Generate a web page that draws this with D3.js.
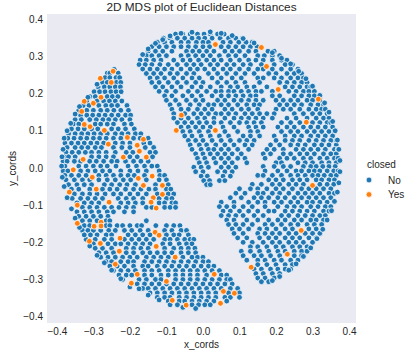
<!DOCTYPE html>
<html>
<head>
<meta charset="utf-8">
<script src="https://cdnjs.cloudflare.com/ajax/libs/d3/7.8.5/d3.min.js"></script>
<style>
  html, body { margin: 0; padding: 0; background: #fff; }
  text { font-family: "Liberation Sans", Arial, sans-serif; fill: #262626; }
  .domain { display: none; }
</style>
</head>
<body>
<div id="chart"></div>
<script>
// closed = Yes as [x, y]
const yesPoints = [
  [-0.246,0.260],[-0.281,0.241],[-0.251,0.230],[-0.279,0.190],[-0.325,0.179],[-0.300,0.174],[-0.332,0.152],
  [-0.325,0.117],[-0.309,0.111],[-0.270,0.101],[-0.259,0.064],[-0.207,0.082],[-0.163,0.077],[-0.180,0.061],
  [-0.174,0.045],[-0.218,0.029],[-0.155,0.029],[-0.328,0.023],[-0.355,-0.005],[-0.059,0.142],[-0.073,0.101],
  [0.034,0.332],[0.160,0.324],[0.174,0.273],[0.206,0.211],[0.316,0.185],[0.283,0.123],[0.034,0.101],
  [-0.303,-0.025],[-0.292,-0.057],[-0.366,-0.065],[-0.344,-0.100],[-0.257,-0.092],[-0.177,-0.028],[-0.163,-0.047],
  [-0.139,-0.022],[-0.111,-0.047],[-0.111,-0.071],[-0.136,-0.080],[-0.142,-0.092],[-0.128,-0.108],[-0.344,-0.149],
  [-0.298,-0.157],[-0.279,-0.146],[-0.279,-0.156],[-0.311,-0.197],[-0.281,-0.203],[-0.227,-0.189],[-0.229,-0.224],
  [-0.240,-0.259],[-0.180,-0.286],[-0.196,-0.310],[-0.131,-0.173],[-0.120,-0.181],[-0.128,-0.211],[-0.076,-0.240],
  [-0.100,-0.305],[-0.084,-0.356],[-0.046,-0.369],
  [0.300,-0.047],[0.269,-0.168],[0.231,-0.232],[0.132,-0.267],[0.031,-0.286],[0.056,-0.332],[0.086,-0.337],[0.048,-0.364]
];

// closed = No, read off row by row: [y, [x, x, ...]]
const noLeft = [
  [0.265,[-0.243]],
  [0.255,[-0.262,-0.255,-0.232]],
  [0.243,[-0.268,-0.255,-0.238,-0.228]],
  [0.230,[-0.275,-0.262,-0.237,-0.225]],
  [0.218,[-0.287,-0.270,-0.255,-0.240,-0.226]],
  [0.205,[-0.298,-0.283,-0.268,-0.252,-0.238,-0.224]],
  [0.192,[-0.310,-0.295,-0.262,-0.248,-0.233]],
  [0.180,[-0.318,-0.290,-0.272,-0.256,-0.240,-0.222]],
  [0.168,[-0.328,-0.312,-0.285,-0.266,-0.250,-0.234,-0.208]],
  [0.155,[-0.340,-0.318,-0.300,-0.280,-0.262,-0.244,-0.225,-0.204]],
  [0.142,[-0.335,-0.318,-0.302,-0.285,-0.268,-0.250,-0.232,-0.212,-0.198]],
  [0.130,[-0.350,-0.333,-0.310,-0.292,-0.274,-0.258,-0.240,-0.222,-0.200]],
  [0.118,[-0.355,-0.340,-0.295,-0.280,-0.262,-0.245,-0.215,-0.196]],
  [0.105,[-0.360,-0.342,-0.325,-0.305,-0.288,-0.250,-0.232,-0.212,-0.188]],
  [0.092,[-0.368,-0.350,-0.332,-0.315,-0.298,-0.280,-0.262,-0.240,-0.222,-0.205,-0.185,-0.170]],
  [0.080,[-0.370,-0.353,-0.335,-0.318,-0.300,-0.283,-0.265,-0.245,-0.225,-0.190,-0.172,-0.150]],
  [0.067,[-0.378,-0.360,-0.342,-0.325,-0.307,-0.290,-0.272,-0.240,-0.220,-0.200,-0.162,-0.145]],
  [0.055,[-0.372,-0.350,-0.332,-0.315,-0.295,-0.278,-0.245,-0.222,-0.200,-0.158,-0.135]],
  [0.042,[-0.375,-0.358,-0.340,-0.322,-0.305,-0.285,-0.265,-0.240,-0.210,-0.192,-0.145,-0.130]],
  [0.030,[-0.380,-0.368,-0.350,-0.305,-0.285,-0.265,-0.245,-0.200,-0.180,-0.138]],
  [0.018,[-0.383,-0.372,-0.352,-0.335,-0.310,-0.292,-0.272,-0.250,-0.235,-0.212,-0.190,-0.170,-0.150]],
  [0.005,[-0.378,-0.340,-0.320,-0.300,-0.280,-0.262,-0.238,-0.205,-0.182,-0.160,-0.140,-0.125]],
  [-0.008,[-0.383,-0.370,-0.335,-0.315,-0.295,-0.275,-0.255,-0.225,-0.200,-0.178,-0.155,-0.120]],
  [-0.020,[-0.378,-0.360,-0.340,-0.320,-0.285,-0.265,-0.245,-0.225,-0.205,-0.188,-0.160,-0.118,-0.105]],
  [-0.032,[-0.375,-0.352,-0.330,-0.310,-0.285,-0.262,-0.240,-0.218,-0.198,-0.155,-0.120,-0.100]],
  [-0.045,[-0.368,-0.345,-0.325,-0.305,-0.270,-0.250,-0.228,-0.208,-0.185,-0.130,-0.095]],
  [-0.057,[-0.360,-0.340,-0.310,-0.275,-0.255,-0.235,-0.212,-0.190,-0.170,-0.148,-0.130,-0.100,-0.088]],
  [-0.070,[-0.352,-0.330,-0.310,-0.290,-0.268,-0.245,-0.225,-0.200,-0.178,-0.155,-0.125,-0.095,-0.080]],
  [-0.082,[-0.358,-0.335,-0.315,-0.295,-0.275,-0.232,-0.210,-0.190,-0.165,-0.120,-0.100,-0.085]],
  [-0.094,[-0.345,-0.325,-0.305,-0.285,-0.225,-0.205,-0.185,-0.165,-0.120,-0.105,-0.085,-0.075]],
  [-0.106,[-0.330,-0.310,-0.290,-0.270,-0.250,-0.230,-0.210,-0.190,-0.155,-0.140,-0.105,-0.090,-0.075]],
  [-0.118,[-0.345,-0.325,-0.305,-0.285,-0.262,-0.245,-0.215,-0.190]],
  [-0.130,[-0.340,-0.320,-0.300,-0.280,-0.260]],
  [-0.142,[-0.330,-0.310,-0.290,-0.265,-0.255,-0.155]],
  [-0.155,[-0.325,-0.310,-0.265,-0.255,-0.235,-0.220,-0.200,-0.180,-0.168,-0.129,-0.100,-0.080,-0.063]],
  [-0.168,[-0.330,-0.315,-0.300,-0.280,-0.258,-0.240,-0.215,-0.195,-0.172,-0.150,-0.105,-0.085,-0.060,-0.045]],
  [-0.180,[-0.325,-0.308,-0.290,-0.265,-0.250,-0.205,-0.185,-0.165,-0.145,-0.100,-0.080,-0.065,-0.040]],
  [-0.192,[-0.320,-0.295,-0.270,-0.250,-0.215,-0.195,-0.175,-0.155,-0.135,-0.105,-0.090,-0.070,-0.050,-0.035,-0.025]],
  [-0.204,[-0.300,-0.260,-0.240,-0.225,-0.205,-0.185,-0.165,-0.145,-0.110,-0.090,-0.065,-0.045,-0.030]],
  [-0.216,[-0.295,-0.275,-0.250,-0.210,-0.190,-0.170,-0.150,-0.105,-0.080,-0.060,-0.040,-0.022]],
  [-0.228,[-0.285,-0.265,-0.245,-0.210,-0.190,-0.165,-0.145,-0.125,-0.105,-0.085,-0.060,-0.040,-0.020]],
  [-0.240,[-0.280,-0.260,-0.240,-0.220,-0.200,-0.180,-0.155,-0.135,-0.115,-0.095,-0.055,-0.030,-0.015,0.000]],
  [-0.252,[-0.265,-0.250,-0.225,-0.205,-0.190,-0.160,-0.140,-0.120,-0.100,-0.080,-0.060,-0.040,-0.020,0.000,0.015]],
  [-0.264,[-0.255,-0.235,-0.215,-0.190,-0.165,-0.150,-0.125,-0.105,-0.085,-0.065,-0.045,-0.025,-0.005,0.015,0.030]],
  [-0.276,[-0.245,-0.225,-0.205,-0.185,-0.160,-0.140,-0.120,-0.095,-0.075,-0.055,-0.035,-0.015,0.005,0.025,0.045]],
  [-0.288,[-0.230,-0.210,-0.195,-0.160,-0.140,-0.115,-0.095,-0.075,-0.055,-0.035,-0.015,0.010,0.050,0.065]],
  [-0.300,[-0.220,-0.175,-0.155,-0.130,-0.115,-0.075,-0.055,-0.035,-0.015,0.005,0.025,0.045,0.065,0.075]],
  [-0.312,[-0.180,-0.160,-0.140,-0.120,-0.100,-0.080,-0.060,-0.040,-0.020,0.000,0.020,0.040,0.060,0.080]],
  [-0.324,[-0.165,-0.150,-0.130,-0.110,-0.090,-0.070,-0.050,-0.030,-0.010,0.010,0.030,0.050,0.075,0.095]],
  [-0.336,[-0.145,-0.125,-0.105,-0.085,-0.065,-0.045,-0.025,-0.005,0.015,0.035,0.070,0.100]],
  [-0.348,[-0.125,-0.105,-0.090,-0.065,-0.045,-0.025,-0.005,0.015,0.035,0.060,0.075,0.100]],
  [-0.358,[-0.095,-0.065,-0.050,-0.030,-0.010,0.010,0.030,0.065]],
  [-0.368,[-0.070,-0.030,-0.012,0.005,0.020]]
];

const noTop = [
  [0.360,[-0.075,-0.055,-0.035,-0.015,0.003,0.020,0.040,0.058]],
  [0.349,[-0.108,-0.090,-0.070,-0.050,-0.030,-0.012,0.005,0.025,0.047,0.070,0.090,0.108]],
  [0.338,[-0.125,-0.105,-0.085,-0.060,-0.040,-0.018,0.000,0.015,0.055,0.075,0.098,0.118,0.135]],
  [0.326,[-0.140,-0.120,-0.100,-0.080,-0.060,-0.040,-0.020,0.000,0.018,0.050,0.070,0.090,0.110,0.130,0.148]],
  [0.314,[-0.150,-0.130,-0.110,-0.085,-0.045,-0.028,-0.010,0.010,0.030,0.060,0.080,0.100,0.125,0.145,0.178,0.195]],
  [0.302,[-0.155,-0.140,-0.120,-0.100,-0.060,-0.040,-0.020,0.000,0.020,0.045,0.070,0.090,0.115,0.150,0.168,0.190,0.210]],
  [0.290,[-0.172,-0.155,-0.135,-0.115,-0.080,-0.055,-0.035,-0.012,0.010,0.030,0.050,0.075,0.100,0.125,0.145,0.165,0.190,0.215,0.230]],
  [0.278,[-0.175,-0.158,-0.140,-0.118,-0.095,-0.070,-0.045,-0.025,-0.005,0.020,0.040,0.065,0.085,0.110,0.130,0.160,0.195,0.225,0.245]],
  [0.266,[-0.165,-0.145,-0.125,-0.105,-0.085,-0.060,-0.035,-0.015,0.005,0.030,0.055,0.075,0.100,0.125,0.150,0.165,0.190,0.215,0.240,0.260]],
  [0.254,[-0.155,-0.135,-0.115,-0.090,-0.070,-0.045,-0.025,0.015,0.040,0.065,0.090,0.115,0.140,0.180,0.200,0.230,0.250,0.270]],
  [0.242,[-0.145,-0.125,-0.105,-0.080,-0.055,-0.030,-0.010,0.025,0.050,0.080,0.105,0.150,0.165,0.195,0.215,0.240,0.260,0.275]],
  [0.230,[-0.140,-0.120,-0.095,-0.070,-0.045,-0.020,0.000,0.040,0.065,0.090,0.115,0.155,0.210,0.230,0.250,0.270,0.285]],
  [0.218,[-0.130,-0.110,-0.085,-0.060,-0.030,-0.005,0.020,0.050,0.075,0.095,0.120,0.140,0.175,0.225,0.245,0.265,0.285,0.295]],
  [0.206,[-0.120,-0.100,-0.075,-0.040,-0.015,0.010,0.035,0.050,0.070,0.085,0.105,0.125,0.145,0.160,0.190,0.235,0.255,0.275,0.290,0.305]],
  [0.194,[-0.105,-0.085,-0.055,-0.030,-0.005,0.025,0.050,0.070,0.090,0.110,0.130,0.145,0.190,0.210,0.250,0.270,0.290,0.305]],
  [0.182,[-0.100,-0.075,-0.045,-0.020,0.000,0.040,0.060,0.085,0.105,0.125,0.145,0.165,0.200,0.220,0.240,0.260,0.285,0.300,0.320]],
  [0.170,[-0.090,-0.065,-0.035,-0.010,0.015,0.030,0.050,0.070,0.095,0.120,0.140,0.155,0.210,0.230,0.250,0.270,0.295,0.315,0.330]],
  [0.158,[-0.085,-0.060,-0.040,-0.015,0.005,0.025,0.060,0.080,0.105,0.125,0.150,0.200,0.220,0.240,0.265,0.290,0.310,0.325,0.335]],
  [0.146,[-0.080,-0.050,-0.025,-0.005,0.015,0.035,0.050,0.070,0.090,0.115,0.135,0.155,0.175,0.195,0.250,0.275,0.300,0.320,0.340]],
  [0.134,[-0.080,-0.060,-0.040,-0.015,0.005,0.030,0.060,0.085,0.105,0.125,0.145,0.165,0.190,0.230,0.255,0.285,0.310,0.330,0.345]],
  [0.122,[-0.070,-0.050,-0.030,-0.010,0.010,0.030,0.050,0.075,0.100,0.120,0.140,0.160,0.215,0.240,0.265,0.300,0.320,0.340,0.350]],
  [0.110,[-0.060,-0.040,-0.020,0.000,0.020,0.055,0.085,0.125,0.145,0.165,0.205,0.230,0.250,0.275,0.295,0.315,0.335,0.355]],
  [0.098,[-0.055,-0.035,-0.010,0.015,0.060,0.095,0.130,0.150,0.215,0.240,0.260,0.285,0.305,0.325,0.345,0.360]],
  [0.086,[-0.050,-0.030,-0.005,0.020,0.045,0.070,0.110,0.130,0.155,0.195,0.225,0.250,0.270,0.295,0.315,0.335,0.355]],
  [0.074,[-0.040,-0.020,0.000,0.025,0.050,0.075,0.100,0.120,0.140,0.200,0.225,0.245,0.265,0.290,0.310,0.330,0.350,0.365]],
  [0.062,[-0.035,-0.010,0.010,0.035,0.060,0.085,0.115,0.135,0.185,0.210,0.240,0.260,0.280,0.305,0.325,0.345,0.365]],
  [0.050,[-0.030,-0.005,0.015,0.030,0.050,0.070,0.095,0.125,0.175,0.195,0.220,0.255,0.275,0.295,0.315,0.335,0.360,0.370]],
  [0.038,[-0.020,0.000,0.020,0.040,0.060,0.080,0.105,0.165,0.185,0.220,0.240,0.265,0.285,0.305,0.330,0.350,0.365]],
  [0.026,[-0.015,0.005,0.030,0.050,0.070,0.095,0.115,0.170,0.210,0.230,0.250,0.275,0.295,0.320,0.340,0.360,0.370]],
  [0.014,[-0.010,0.010,0.035,0.060,0.080,0.120,0.200,0.215,0.260,0.280,0.300,0.325,0.345,0.365]],
  [0.002,[-0.025,-0.005,0.015,0.050,0.070,0.090]],
  [-0.010,[-0.020,0.000,0.040,0.060,0.080]],
  [-0.022,[-0.005,0.012,0.055,0.075]],
  [-0.034,[0.002,0.018,0.045,0.060]],
  [-0.045,[0.010,0.020]]
];

const noRight = [
  [0.004,[0.165,0.195,0.220,0.240,0.275,0.295,0.310,0.328,0.345,0.362]],
  [-0.008,[0.170,0.205,0.230,0.255,0.270,0.290,0.305,0.320,0.340,0.358,0.370]],
  [-0.020,[0.150,0.165,0.190,0.215,0.240,0.260,0.280,0.300,0.315,0.332,0.350,0.365]],
  [-0.032,[0.180,0.200,0.220,0.245,0.265,0.285,0.310,0.325,0.345,0.360]],
  [-0.044,[0.135,0.160,0.190,0.210,0.235,0.255,0.275,0.320,0.340,0.358]],
  [-0.056,[0.100,0.130,0.150,0.175,0.200,0.220,0.245,0.270,0.290,0.310,0.330,0.350]],
  [-0.068,[0.090,0.115,0.150,0.165,0.190,0.210,0.235,0.260,0.280,0.300,0.320,0.345,0.360]],
  [-0.080,[0.075,0.105,0.140,0.160,0.180,0.205,0.225,0.250,0.270,0.290,0.310,0.330,0.350]],
  [-0.092,[0.050,0.085,0.125,0.150,0.170,0.195,0.215,0.240,0.260,0.285,0.300,0.320,0.340]],
  [-0.104,[0.045,0.065,0.085,0.110,0.135,0.170,0.205,0.230,0.250,0.270,0.295,0.315,0.335,0.350]],
  [-0.116,[0.055,0.075,0.100,0.125,0.150,0.180,0.195,0.225,0.245,0.265,0.285,0.305,0.330,0.345]],
  [-0.128,[0.050,0.070,0.090,0.110,0.140,0.165,0.215,0.235,0.260,0.280,0.300,0.320,0.335]],
  [-0.140,[0.065,0.085,0.120,0.150,0.180,0.205,0.225,0.250,0.270,0.295,0.310,0.330]],
  [-0.152,[0.070,0.090,0.110,0.135,0.170,0.190,0.215,0.240,0.260,0.285,0.305,0.325]],
  [-0.164,[0.080,0.100,0.125,0.155,0.175,0.200,0.225,0.245,0.290,0.310]],
  [-0.176,[0.085,0.110,0.150,0.170,0.190,0.210,0.235,0.255,0.280,0.300,0.320]],
  [-0.188,[0.095,0.120,0.155,0.180,0.200,0.225,0.245,0.265,0.290,0.310]],
  [-0.200,[0.110,0.135,0.165,0.190,0.210,0.235,0.255,0.275,0.300]],
  [-0.212,[0.130,0.150,0.175,0.200,0.220,0.245,0.265,0.285]],
  [-0.224,[0.105,0.130,0.155,0.180,0.205,0.225,0.250,0.270,0.285]],
  [-0.236,[0.110,0.140,0.160,0.185,0.210,0.250,0.270]],
  [-0.248,[0.120,0.150,0.170,0.195,0.215,0.240,0.260]],
  [-0.260,[0.150,0.175,0.200,0.225,0.245]],
  [-0.272,[0.140,0.160,0.185,0.205,0.225,0.240]],
  [-0.284,[0.145,0.165,0.190,0.210]],
  [-0.296,[0.150,0.170,0.195]],
  [-0.306,[0.160,0.180]]
];

// closed = No, dots along the outer edge of the disc, as [x, y]
const noEdge = [
  [-0.165,0.305],[-0.150,0.320],[-0.130,0.335],[-0.110,0.345],[-0.090,0.355],[-0.060,0.362],[-0.030,0.365],
  [0.020,0.366],[0.050,0.362],[0.080,0.356],[0.110,0.348],[0.140,0.336],[0.190,0.310],[0.215,0.295],[0.240,0.280],
  [0.262,0.260],[0.282,0.240],[0.300,0.220],[0.320,0.195],[0.333,0.175],[0.345,0.150],[0.355,0.125],[0.362,0.100],
  [0.368,0.075],[0.372,0.050],[0.375,0.020],[0.375,-0.010],[0.372,-0.040],[0.368,-0.065],[0.360,-0.090],[0.352,-0.115],
  [0.340,-0.140],[0.328,-0.165],[0.312,-0.190],[0.295,-0.215],[0.275,-0.238],[0.255,-0.258],[0.235,-0.275],[0.210,-0.292],[0.190,-0.303],
  [-0.290,0.225],[-0.315,0.190],[-0.338,0.165],[-0.350,0.145],[-0.362,0.120],[-0.372,0.100],[-0.380,0.080],
  [-0.383,0.050],[-0.386,0.030],[-0.387,0.005],[-0.385,-0.025],[-0.380,-0.050],[-0.372,-0.080],[-0.360,-0.110],[-0.350,-0.135],
  [-0.338,-0.160],[-0.325,-0.180],[-0.310,-0.210],[-0.290,-0.235],[-0.270,-0.255],[-0.250,-0.275],[-0.225,-0.298],[-0.200,-0.320],
  [-0.175,-0.325],[-0.150,-0.342],[-0.120,-0.355],[-0.090,-0.368],[-0.055,-0.375],[-0.020,-0.378]
];

const xTicks = [-0.4, -0.3, -0.2, -0.1, 0, 0.1, 0.2, 0.3, 0.4];
const yTicks = [-0.4, -0.3, -0.2, -0.1, 0, 0.1, 0.2, 0.3, 0.4];
const legendLabels = ["No", "Yes"];
const colors = ["#1f77b4", "#ff7f0e"];

const width = 413, height = 360;

const svg = d3.select("#chart").append("svg")
  .attr("width", width)
  .attr("height", height)
  .style("display", "block");

const x = d3.scaleLinear().domain([-0.427, 0.419]).range([47, 356]);
const y = d3.scaleLinear().domain([-0.417, 0.414]).range([323, 14]);

svg.append("rect")
  .attr("x", x.range()[0]).attr("y", y.range()[1])
  .attr("width", x.range()[1] - x.range()[0])
  .attr("height", y.range()[0] - y.range()[1])
  .attr("fill", "#eaeaf2");

const xAxis = d3.axisBottom(x).tickValues(xTicks).tickSize(0).tickPadding(5).tickFormat(d3.format(".1f"));
const yAxis = d3.axisLeft(y).tickValues(yTicks).tickSize(0).tickPadding(4).tickFormat(d3.format(".1f"));

svg.append("g").attr("transform", "translate(0,323)").call(xAxis)
  .selectAll("text").style("font-size", "10px").style("font-family", "Liberation Sans");
svg.append("g").attr("transform", "translate(47,0)").call(yAxis)
  .selectAll("text").style("font-size", "10px").style("font-family", "Liberation Sans");

const flat = rows => rows.flatMap(([v, xs]) => xs.map(u => [u, v]));
const noPoints = flat(noLeft).concat(flat(noTop), flat(noRight), noEdge);

function dots(points, color) {
  svg.append("g").selectAll("circle")
    .data(points)
    .enter()
    .append("circle")
    .attr("cx", d => x(d[0]))
    .attr("cy", d => y(d[1]))
    .attr("r", 2.9)
    .attr("fill", color)
    .attr("stroke", "#fff")
    .attr("stroke-width", 0.8);
}
dots(noPoints, colors[0]);
dots(yesPoints, colors[1]);

svg.append("text").attr("x", 201.5).attr("y", 10.8).attr("text-anchor", "middle")
  .style("font-size", "11.8px").text("2D MDS plot of Euclidean Distances");
svg.append("text").attr("x", 201.5).attr("y", 348).attr("text-anchor", "middle")
  .style("font-size", "10px").text("x_cords");
svg.append("text").attr("transform", "translate(16,168.5) rotate(-90)").attr("text-anchor", "middle")
  .style("font-size", "10px").text("y_cords");

// legend
svg.append("text").attr("x", 367).attr("y", 168).style("font-size", "10px").text("closed");
legendLabels.forEach((label, i) => {
  const ly = 180 + i * 14.5;
  svg.append("circle").attr("cx", 369).attr("cy", ly).attr("r", 2.9)
    .attr("fill", colors[i]).attr("stroke", "#fff").attr("stroke-width", 0.8);
  svg.append("text").attr("x", 388).attr("y", ly + 3.5).style("font-size", "10px").text(label);
});
</script>
</body>
</html>
